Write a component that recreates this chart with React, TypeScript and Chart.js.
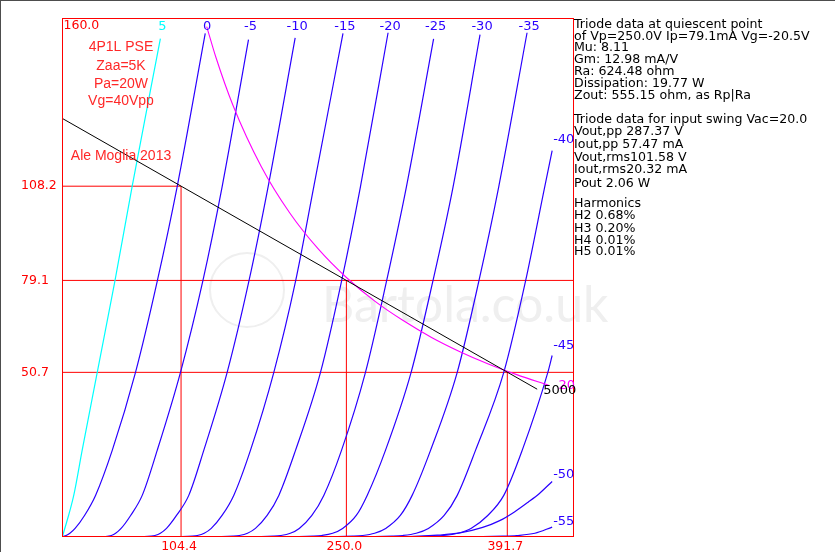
import React, { useEffect, useRef } from "react";
import { Chart, registerables } from "chart.js";
Chart.register(...registerables);

// Axis ranges: plate voltage (V) and plate current (mA)
const vMax = 450;
const iMax = 160;

// Grid-voltage labels of the plate curves
const gridLabels = ["5", "0", "-5", "-10", "-15", "-20", "-25", "-30", "-35", "-40", "-45", "-50", "-55"];

// Plate curves: [Vp (V), Ip (mA)]
const curveP5 = [[0, 0], [9.9, 12.7], [17.3, 26.6], [30.6, 50.7], [46.1, 78.8], [61.3, 108.1], [86.2, 153.8]];
const curve0 = [[0, 0], [3.2, 0.3], [6.5, 1.0], [11.1, 2.5], [19.4, 6.5], [29.1, 12.7], [43.8, 26.6], [64.3, 50.7], [83.4, 78.8], [101.0, 108.1], [125.7, 155.4]];
const curveM5 = [[0, 0], [38, 0], [40.8, 0.1], [43.0, 0.3], [46.8, 1.0], [51.6, 2.5], [60.0, 6.5], [70.2, 12.7], [83.4, 26.6], [103.9, 50.7], [123.5, 78.8], [140.6, 108.1], [163.8, 153.5]];
const curveM10 = [[0, 0], [72, 0], [78.0, 0.1], [81.4, 0.3], [86.2, 1.0], [91.6, 2.5], [100.4, 6.5], [111.2, 12.7], [124.4, 26.6], [145.0, 50.7], [164.1, 78.8], [181.1, 108.1], [204.9, 154]];
const curveM15 = [[0, 0], [105, 0], [114.4, 0.1], [118.7, 0.3], [124.8, 1.0], [131.0, 2.5], [140.5, 6.5], [150.8, 12.7], [165.5, 26.6], [186.1, 50.7], [205.2, 78.8], [221.3, 108.1], [247.0, 155.4]];
const curveM20 = [[0, 0], [140, 0], [150.2, 0.1], [155.7, 0.3], [162.9, 1.0], [169.9, 2.5], [180.2, 6.5], [190.5, 12.7], [205.2, 26.6], [227.2, 50.7], [245.7, 78.8], [262.4, 108.1], [286.7, 155.6]];
const curveM25 = [[0, 0], [175, 0], [185.7, 0.1], [192.1, 0.3], [200.6, 1.0], [208.5, 2.5], [219.6, 6.5], [230.1, 12.7], [245.7, 26.6], [266.8, 50.7], [285.3, 78.8], [302.9, 108.1], [326.8, 153.7]];
const curveM30 = [[0, 0], [208, 0], [220.8, 0.1], [228.1, 0.3], [237.9, 1.0], [246.7, 2.5], [258.7, 6.5], [268.3, 12.7], [284.4, 26.6], [307.0, 50.7], [326.1, 78.8], [344.0, 108.1], [367.7, 155]];
const curveM35 = [[0, 0], [242, 0], [255.6, 0.1], [264.1, 0.3], [274.8, 1.0], [284.6, 2.5], [297.5, 6.5], [307.9, 12.7], [324.1, 26.6], [347.6, 50.7], [366.6, 78.8], [384.2, 108.1], [409.1, 155.6]];
const curveM40 = [[0, 0], [275, 0], [290.1, 0.1], [299.6, 0.3], [311.5, 1.0], [322.2, 2.5], [336.1, 6.5], [347.6, 12.7], [363.7, 26.6], [388.6, 50.7], [407.7, 78.8], [424.7, 108.1], [431.2, 119.2]];
const curveM45 = [[0, 0], [308, 0], [324.6, 0.1], [334.9, 0.3], [348.1, 1.0], [359.7, 2.5], [374.5, 6.5], [388.6, 12.7], [404.8, 26.6], [427.4, 50.7], [431.2, 55.9]];
const curveM50 = [[0, 0], [305, 0], [330, 0.4], [350, 1.1], [370, 2.8], [385, 4.9], [398, 7.6], [410, 10.6], [420, 13.3], [431.2, 17.0]];
const curveM55 = [[0, 0], [370, 0], [388, 0.1], [400, 0.3], [416, 1.0], [431.2, 2.9]];

const curves = [curveP5, curve0, curveM5, curveM10, curveM15, curveM20, curveM25, curveM30, curveM35, curveM40, curveM45, curveM50, curveM55];

// Load line (5000 ohm) and plate dissipation hyperbola (20 W)
const loadLine = [[0, 129.1], [418, 45.5]];
const dissipation = [[127, 157.5], [135, 148.1], [150, 133.3], [175, 114.3], [200, 100], [225, 88.9], [250, 80], [275, 72.7], [300, 66.7], [325, 61.5], [350, 57.1], [375, 53.3], [400, 50], [428, 46.7]];
const loadLabel = "5000";
const dissLabel = "20";

// Swing points: min, quiescent, max
const swingV = [104.4, 250.0, 391.7];
const swingI = [108.2, 79.1, 50.7];
const swingVLabels = ["104.4", "250.0", "391.7"];
const swingILabels = ["108.2", "79.1", "50.7"];
const topLabel = "160.0";

const titleLines = ["4P1L PSE", "Zaa=5K", "Pa=20W", "Vg=40Vpp"];
const author = "Ale Moglia 2013";
const watermark = "Bartola.co.uk";

const quiescentLines = [
  "Triode data at quiescent point",
  "of Vp=250.0V Ip=79.1mA Vg=-20.5V",
  "Mu: 8.11",
  "Gm: 12.98 mA/V",
  "Ra: 624.48 ohm",
  "Dissipation: 19.77 W",
  "Zout: 555.15 ohm, as Rp|Ra",
];
const swingLines = [
  "Triode data for input swing Vac=20.0",
  "Vout,pp 287.37 V",
  "Iout,pp 57.47 mA",
  "Vout,rms101.58 V",
  "Iout,rms20.32 mA",
  "Pout 2.06 W",
];
const harmonicLines = ["Harmonics", "H2 0.68%", "H3 0.20%", "H4 0.01%", "H5 0.01%"];

const BLUE = "#2a00ff";
const RED = "#ff0000";
const FONT = "DejaVu Sans";

const toXY = (pts: number[][]) => pts.map(([x, y]) => ({ x, y }));

export default function App() {
  const ref = useRef<HTMLCanvasElement | null>(null);

  useEffect(() => {
    document.body.style.margin = "0";
    const canvas = ref.current;
    if (!canvas) return;

    const datasets: any[] = [];
    datasets.push({ data: toXY(loadLine), borderColor: "#000000", borderWidth: 1, tension: 0 });
    datasets.push({ data: toXY(dissipation), borderColor: "#ff00ff", borderWidth: 1.1, cubicInterpolationMode: "monotone" });
    curves.forEach((c, i) => {
      datasets.push({
        data: toXY(c),
        borderColor: i === 0 ? "#00ffff" : BLUE,
        borderWidth: 1.2,
        cubicInterpolationMode: "monotone",
      });
    });
    swingV.forEach((v, k) => {
      datasets.push({ data: [{ x: 0, y: swingI[k] }, { x: k === 0 ? v : vMax, y: swingI[k] }], borderColor: RED, borderWidth: 1, tension: 0 });
      datasets.push({ data: [{ x: v, y: 0 }, { x: v, y: swingI[k] }], borderColor: RED, borderWidth: 1, tension: 0 });
    });

    const annot = {
      id: "annot",
      beforeDatasetsDraw(chart: any) {
        const ctx = chart.ctx;
        ctx.save();
        // faint watermark
        ctx.strokeStyle = "#efefef";
        ctx.lineWidth = 2;
        ctx.beginPath();
        ctx.arc(247, 290, 37, 0, Math.PI * 2);
        ctx.stroke();
        ctx.fillStyle = "#efefef";
        ctx.font = "50px Lato";
        ctx.textBaseline = "alphabetic";
        ctx.fillText(watermark, 322, 322);
        ctx.restore();
      },
      afterDraw(chart: any) {
        const ctx = chart.ctx;
        const xs = chart.scales.x;
        const ys = chart.scales.y;
        const a = chart.chartArea;
        ctx.save();
        // frame of the screenshot
        ctx.fillStyle = "#4d4d4d";
        ctx.fillRect(0, 0, 835, 1);
        ctx.fillRect(0, 0, 1, 552);
        // plot border
        ctx.strokeStyle = RED;
        ctx.lineWidth = 1;
        ctx.strokeRect(a.left, a.top, a.right - a.left, a.bottom - a.top);

        // red axis labels
        ctx.fillStyle = RED;
        ctx.font = `12.5px ${FONT}`;
        ctx.textBaseline = "alphabetic";
        ctx.textAlign = "left";
        ctx.fillText(topLabel, a.left + 1, 28.5);
        ctx.textBaseline = "middle";
        swingILabels.forEach((t, k) => ctx.fillText(t, 21, ys.getPixelForValue(swingI[k])));
        ctx.textAlign = "center";
        ctx.textBaseline = "alphabetic";
        swingVLabels.forEach((t, k) => ctx.fillText(t, xs.getPixelForValue(swingV[k]) - 2, 550));

        // curve labels
        ctx.font = `13px ${FONT}`;
        curves.forEach((c, i) => {
          const last = c[c.length - 1];
          const px = xs.getPixelForValue(last[0]);
          const py = ys.getPixelForValue(last[1]);
          ctx.fillStyle = i === 0 ? "#00ffff" : BLUE;
          if (i <= 8) {
            ctx.textAlign = "center";
            ctx.fillText(gridLabels[i], px + 2, 30);
          } else {
            ctx.textAlign = "left";
            const off = [8, 7, 3, 2][i - 9];
            ctx.fillText(gridLabels[i], px + 1, py - off);
          }
        });
        // load line and dissipation labels
        ctx.textAlign = "left";
        ctx.fillStyle = "#ff00ff";
        const dEnd = dissipation[dissipation.length - 1];
        ctx.fillText(dissLabel, xs.getPixelForValue(dEnd[0]) + 10, ys.getPixelForValue(dEnd[1]) + 4);
        ctx.fillStyle = "#000000";
        const lEnd = loadLine[loadLine.length - 1];
        ctx.fillText(loadLabel, xs.getPixelForValue(lEnd[0]) + 6, ys.getPixelForValue(lEnd[1]) + 5);

        // title annotations
        ctx.fillStyle = "rgb(255,40,40)";
        ctx.font = "14px 'Liberation Sans'";
        ctx.textAlign = "center";
        ctx.textBaseline = "alphabetic";
        const tb = [51, 69.5, 87.5, 105];
        titleLines.forEach((t, k) => ctx.fillText(t, 121, tb[k]));
        ctx.fillText(author, 121, 160);

        // info text
        ctx.fillStyle = "#000000";
        ctx.font = `12.6px ${FONT}`;
        ctx.textAlign = "left";
        const qb = [28, 39.5, 51, 63, 75, 86.5, 98.5];
        quiescentLines.forEach((t, k) => ctx.fillText(t, 574, qb[k]));
        const sb = [123, 135, 147.5, 160.5, 173, 187];
        swingLines.forEach((t, k) => ctx.fillText(t, 574, sb[k]));
        const hb = [207, 219, 231.5, 243.5, 255];
        harmonicLines.forEach((t, k) => ctx.fillText(t, 574, hb[k]));
        ctx.restore();
      },
    };

    const chart = new Chart(canvas, {
      type: "line",
      data: { datasets },
      options: {
        animation: false,
        responsive: false,
        devicePixelRatio: 1,
        layout: { padding: { left: 62.5, right: 261.5, top: 18.5, bottom: 15.5 } },
        plugins: { legend: { display: false }, tooltip: { enabled: false } },
        elements: { point: { radius: 0 }, line: { fill: false } },
        scales: {
          x: { type: "linear", min: 0, max: vMax, display: false },
          y: { type: "linear", min: 0, max: iMax, display: false },
        },
      },
      plugins: [annot],
    } as any);

    return () => chart.destroy();
  }, []);

  return (
    <div style={{ position: "absolute", left: 0, top: 0, width: 835, height: 552, background: "#ffffff" }}>
      <canvas ref={ref} width={835} height={552} style={{ display: "block" }} />
    </div>
  );
}
